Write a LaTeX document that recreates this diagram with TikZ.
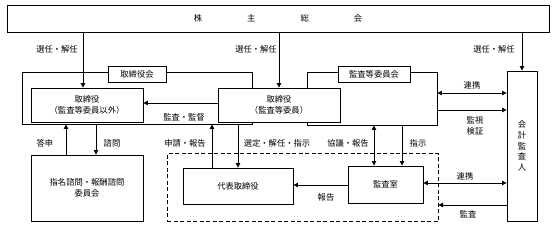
\documentclass[tikz,border=0pt]{standalone}
\usepackage{fontspec}
\setmainfont{Noto Sans CJK JP}
\usetikzlibrary{arrows.meta}
\tikzset{
  x=1pt, y=-1pt,
  txt/.style={font=\fontsize{8.3}{11}\selectfont, inner sep=0pt, align=center},
  box/.style={draw, line width=0.9pt, fill=white, inner sep=0pt, align=center, font=\fontsize{8.3}{11.5}\selectfont},
  frame/.style={draw, line width=0.9pt, inner sep=0pt},
  dframe/.style={draw, line width=1pt, dash pattern=on 4pt off 2.5pt, inner sep=0pt},
  arr/.style={line width=0.8pt, -{Triangle[length=4.5pt,width=4.5pt]}},
  darr/.style={line width=0.8pt, {Triangle[length=4.5pt,width=4.5pt]}-{Triangle[length=4.5pt,width=4.5pt]}}
}
\begin{document}
\begin{tikzpicture}
\useasboundingbox (0,0) rectangle (560,229);
% frames
\node[frame, minimum width=230pt, minimum height=52pt] (bd) at (137,98) {};
\node[frame, minimum width=130pt, minimum height=53pt] (ac) at (372,98.5) {};
\node[dframe, minimum width=271pt, minimum height=68pt] (dash) at (302.5,188) {};
% boxes
\node[box, minimum width=542pt, minimum height=27pt] (gm) at (278,18.5) {株\hspace{45pt}主\hspace{45pt}総\hspace{45pt}会};
\node[box, minimum width=58pt, minimum height=16pt] (bdl) at (137,74) {取締役会};
\node[box, minimum width=72pt, minimum height=16pt] (acl) at (374,74) {監査等委員会};
\node[box, minimum width=112pt, minimum height=34pt] (d1) at (87,105) {取締役\\（監査等委員以外）};
\node[box, minimum width=122pt, minimum height=34pt] (d2) at (279,105) {取締役\\（監査等委員）};
\node[box, minimum width=112pt, minimum height=66pt] (nom) at (87,188) {指名諮問・報酬諮問\\委員会};
\node[box, minimum width=110pt, minimum height=36pt] (rep) at (238,186) {代表取締役};
\node[box, minimum width=75pt, minimum height=37pt] (aud) at (385.5,184.5) {監査室};
\node[box, minimum width=30pt, minimum height=150pt, font=\fontsize{8.3}{10.8}\selectfont] (ca) at (522,146) {会\\計\\監\\査\\人};
% connectors
\draw[arr] (83,0 |- gm.south) -- (83,0 |- d1.north);
\draw[arr] (gm.south -| d2.north) -- (d2.north);
\draw[arr] (gm.south -| ca.north) -- (ca.north);
\draw[arr] (d2.west |- 0,103) -- (d1.east |- 0,103);
\draw[darr] (ac.east |- 0,93) -- (ca.west |- 0,93);
\draw[arr] (ac.east |- 0,110) -- (ca.west |- 0,110);
\draw[arr] (66,0 |- nom.north) -- (66,0 |- bd.south);
\draw[arr] (96,0 |- bd.south) -- (96,0 |- nom.north);
\draw[arr] (212,0 |- rep.north) -- (212,0 |- bd.south);
\draw[arr] (bd.south -| rep.north) -- (rep.north);
\draw[darr] (374,0 |- ac.south) -- (374,0 |- aud.north);
\draw[arr] (402,0 |- ac.south) -- (402,0 |- aud.north);
\draw[arr] (aud.west |- 0,185) -- (rep.east |- 0,185);
\draw[darr] (aud.east |- 0,183) -- (ca.west |- 0,183);
\draw[arr] (ca.west |- 0,205) -- (dash.east |- 0,205);
% labels
\node[txt] (l1) at (57,49) {選任・解任};
\node[txt] (l2) at (256,49) {選任・解任};
\node[txt] (l3) at (494,49) {選任・解任};
\node[txt] (l4) at (184,117) {監査・監督};
\node[txt] (l5) at (472,85) {連携};
\node[txt] (l6) at (475,126) {監視\\検証};
\node[txt] (l7) at (45,143) {答申};
\node[txt] (l8) at (112,143) {諮問};
\node[txt] (l9) at (185,143) {申請・報告};
\node[txt] (l10) at (277,143) {選定・解任・指示};
\node[txt] (l11) at (348,143) {協議・報告};
\node[txt] (l12) at (418,143) {指示};
\node[txt] (l13) at (326,197) {報告};
\node[txt] (l14) at (465,176) {連携};
\node[txt] (l15) at (468,214) {監査};
\end{tikzpicture}
\end{document}
